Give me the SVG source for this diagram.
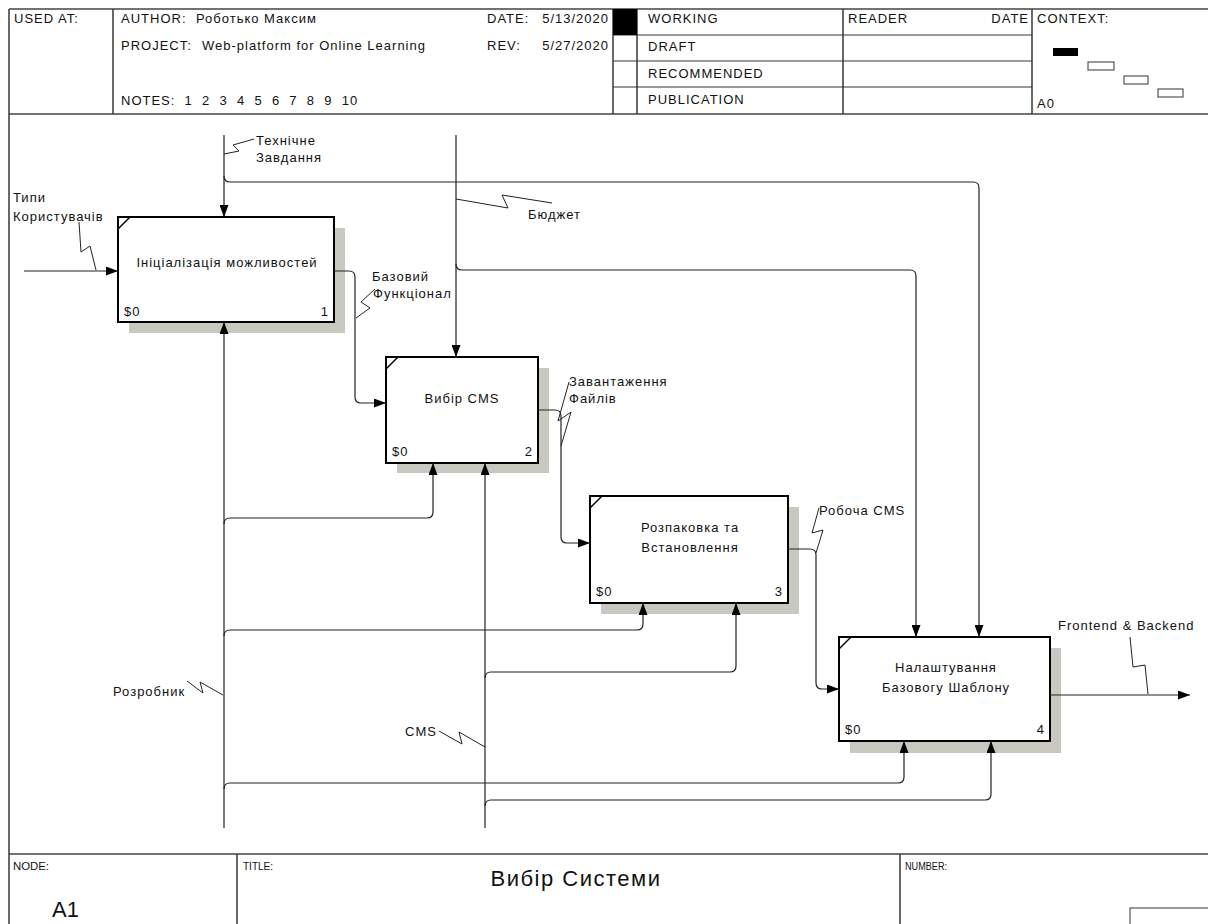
<svg xmlns="http://www.w3.org/2000/svg" width="1208" height="924" viewBox="0 0 1208 924">
<defs>
<marker id="ah" markerUnits="userSpaceOnUse" markerWidth="13" markerHeight="9" refX="12" refY="4.5" orient="auto">
<path d="M0,0 L12,4.5 L0,9 Z" fill="#000"/>
</marker>
<style>
text{font-family:"Liberation Sans",Arial,sans-serif;fill:#111;font-size:13px;letter-spacing:1px}
.sm{font-size:11px;letter-spacing:0}
.frame{stroke:#444;stroke-width:1.6;fill:none}
.thin{stroke:#333;stroke-width:1;fill:none}
.box{fill:#fff;stroke:#000;stroke-width:2}
.shadow{fill:#c8c8c0}
.corner{stroke:#000;stroke-width:1.5;fill:none}
.cn{stroke:#222;stroke-width:1.2;fill:none}
.arr{marker-end:url(#ah)}
.sq{stroke:#222;stroke-width:1;fill:none}
</style>
</defs>
<rect width="1208" height="924" fill="#fff"/>

<g id="header">
<path class="frame" d="M9,9 H1208 M9,9 V924 M9,114 H1208 M113,9 V114 M613,9 V114 M637,9 V114 M843,9 V114 M1032,9 V114"/>
<path class="thin" d="M613,35 H1032 M613,61 H1032 M613,87 H1032"/>
<rect x="613" y="9" width="24" height="26" fill="#000"/>
<text x="14" y="23">USED AT:</text>
<text x="121" y="23">AUTHOR:</text>
<text x="196" y="23">Роботько Максим</text>
<text x="121" y="50">PROJECT:</text>
<text x="202" y="50">Web-platform for Online Learning</text>
<text x="121" y="105" xml:space="preserve">NOTES:  1  2  3  4  5  6  7  8  9  10</text>
<text x="487" y="23">DATE:</text>
<text x="609" y="23" text-anchor="end">5/13/2020</text>
<text x="487" y="50">REV:</text>
<text x="609" y="50" text-anchor="end">5/27/2020</text>
<text x="648" y="23">WORKING</text>
<text x="648" y="51">DRAFT</text>
<text x="648" y="78">RECOMMENDED</text>
<text x="648" y="104">PUBLICATION</text>
<text x="848" y="23">READER</text>
<text x="1029" y="23" text-anchor="end">DATE</text>
<text x="1037" y="23">CONTEXT:</text>
<text x="1037" y="108">A0</text>
<rect x="1053" y="48" width="25" height="8" fill="#000"/>
<rect x="1088" y="62" width="26" height="8" class="thin"/>
<rect x="1124" y="76" width="24" height="8" class="thin"/>
<rect x="1158" y="89" width="25" height="8" class="thin"/>
</g>

<g id="node1">
<rect class="shadow" x="129" y="228" width="216" height="105"/>
<rect class="box" x="118" y="217" width="216" height="105"/>
<path class="corner" d="M118,229 L130,217"/>
<text x="227" y="267" text-anchor="middle">Ініціалізація можливостей</text>
<text x="124" y="316">$0</text>
<text x="329" y="316" text-anchor="end">1</text>
</g>

<g id="node2">
<rect class="shadow" x="397" y="368" width="152" height="105"/>
<rect class="box" x="386" y="357" width="152" height="106"/>
<path class="corner" d="M386,369 L398,357"/>
<text x="462" y="403" text-anchor="middle">Вибір CMS</text>
<text x="392" y="456">$0</text>
<text x="533" y="456" text-anchor="end">2</text>
</g>

<g id="node3">
<rect class="shadow" x="601" y="507" width="198" height="107"/>
<rect class="box" x="590" y="496" width="198" height="107"/>
<path class="corner" d="M590,508 L602,496"/>
<text x="690" y="532" text-anchor="middle">Розпаковка та</text>
<text x="690" y="552" text-anchor="middle">Встановлення</text>
<text x="596" y="596">$0</text>
<text x="783" y="596" text-anchor="end">3</text>
</g>

<g id="node4">
<rect class="shadow" x="850" y="648" width="211" height="105"/>
<rect class="box" x="839" y="637" width="211" height="104"/>
<path class="corner" d="M839,649 L851,637"/>
<text x="946" y="672" text-anchor="middle">Налаштування</text>
<text x="946" y="692" text-anchor="middle">Базовогу Шаблону</text>
<text x="845" y="734">$0</text>
<text x="1045" y="734" text-anchor="end">4</text>
</g>

<g id="connectors">
<path class="cn arr" d="M224,135 V217"/>
<path class="cn arr" d="M224,176 Q224,182 230,182 H973 Q979,182 979,188 V637"/>
<path class="cn arr" d="M456,135 V357"/>
<path class="cn arr" d="M456,264 Q456,270 462,270 H910 Q916,270 916,276 V637"/>
<path class="cn arr" d="M24,271 H118"/>
<path class="cn arr" d="M334,271 H349 Q355,271 355,277 V397 Q355,403 361,403 H386"/>
<path class="cn arr" d="M538,410 H555 Q561,410 561,416 V537 Q561,543 567,543 H590"/>
<path class="cn arr" d="M788,549 H810 Q816,549 816,555 V683 Q816,689 822,689 H839"/>
<path class="cn arr" d="M1050,695 H1190"/>
<path class="cn arr" d="M224,828 V322"/>
<path class="cn arr" d="M224,524 Q224,518 230,518 H427 Q433,518 433,512 V463"/>
<path class="cn arr" d="M224,636 Q224,630 230,630 H637 Q643,630 643,624 V603"/>
<path class="cn arr" d="M224,789 Q224,783 230,783 H898 Q904,783 904,777 V741"/>
<path class="cn arr" d="M485,828 V463"/>
<path class="cn arr" d="M485,678 Q485,672 491,672 H730 Q736,672 736,666 V603"/>
<path class="cn arr" d="M485,806 Q485,800 491,800 H985 Q991,800 991,794 V741"/>
<path class="sq" d="M224,154 L239,151 L233,145 L254,139"/>
<path class="sq" d="M96,270 L90,246 L81,252 L79,222"/>
<path class="sq" d="M356,318 L370,308 L361,302 L375,289"/>
<path class="sq" d="M456,199 L508,208 L502,195 L552,203"/>
<path class="sq" d="M561,446 L571,412 L558,421 L569,382"/>
<path class="sq" d="M816,553 L823,530 L812,533 L819,508"/>
<path class="sq" d="M1148,694 L1145,665 L1133,667 L1130,637"/>
<path class="sq" d="M187,681 L203,693 L200,682 L223,695"/>
<path class="sq" d="M439,731 L462,744 L459,732 L485,747"/>
<text x="256" y="145">Технічне</text>
<text x="256" y="162">Завдання</text>
<text x="13" y="202">Типи</text>
<text x="13" y="221">Користувачів</text>
<text x="372" y="281">Базовий</text>
<text x="373" y="298">Функціонал</text>
<text x="528" y="219">Бюджет</text>
<text x="569" y="386">Завантаження</text>
<text x="569" y="403">Файлів</text>
<text x="819" y="515">Робоча CMS</text>
<text x="1058" y="630">Frontend &amp; Backend</text>
<text x="113" y="696">Розробник</text>
<text x="405" y="736">CMS</text>
</g>

<g id="footer">
<path class="frame" d="M9,854 H1208 M237,854 V924 M900,854 V924"/>
<rect x="1130" y="908" width="80" height="20" class="thin"/>
<text class="sm" x="13" y="870" textLength="36" lengthAdjust="spacingAndGlyphs">NODE:</text>
<text x="52" y="917" style="font-size:22px;letter-spacing:0">A1</text>
<text class="sm" x="243" y="870" textLength="30" lengthAdjust="spacingAndGlyphs">TITLE:</text>
<text x="576" y="886" text-anchor="middle" style="font-size:22px;letter-spacing:1.5px">Вибір Системи</text>
<text class="sm" x="905" y="870" textLength="42" lengthAdjust="spacingAndGlyphs">NUMBER:</text>
</g>
</svg>
